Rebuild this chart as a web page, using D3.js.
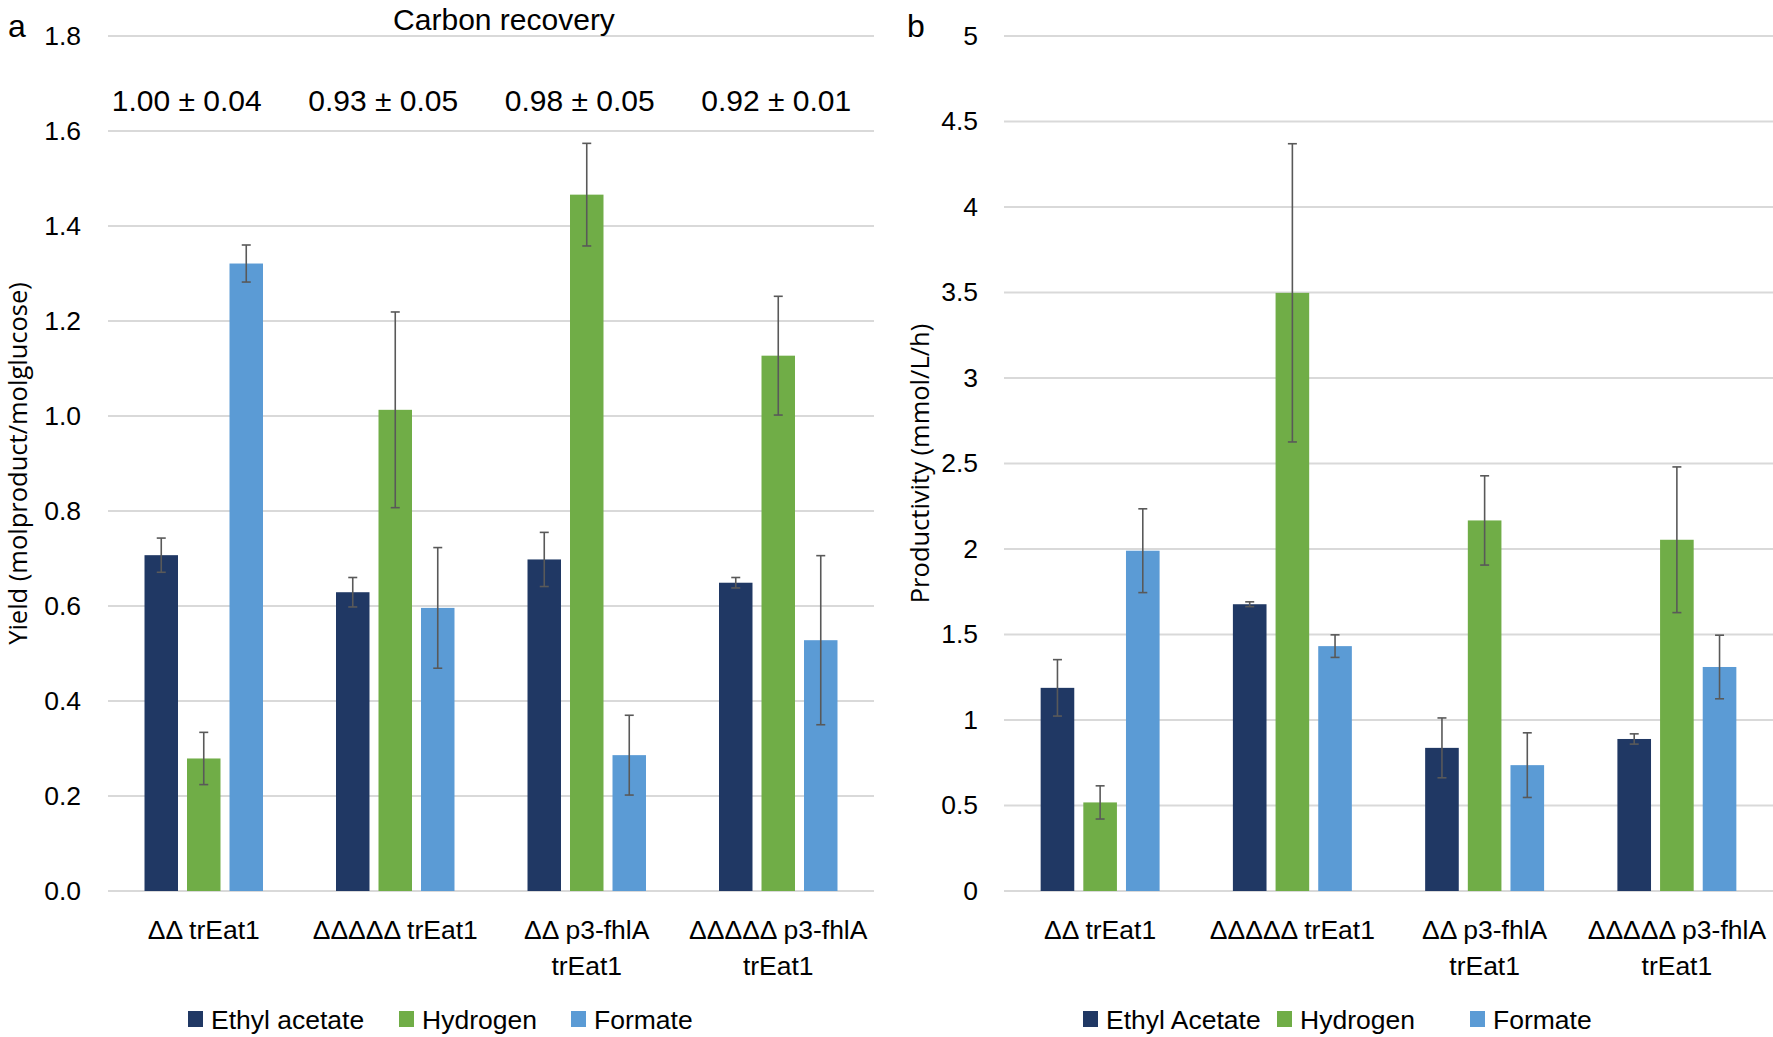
<!DOCTYPE html>
<html><head><meta charset="utf-8">
<script src="https://cdn.jsdelivr.net/npm/d3@7"></script>
<style>
html,body{margin:0;padding:0;background:#fff;}
svg text{fill:#000;}
.calib{font-family:"Liberation Sans","Arial",sans-serif;}
.axt{font-family:"Open Sans","DejaVu Sans",sans-serif;}
</style></head>
<body>
<svg id="chart" width="1773" height="1037"></svg>
<script>
// ---------- data ----------
const categories = ["ΔΔ trEat1", "ΔΔΔΔΔ trEat1", "ΔΔ p3-fhlA\ntrEat1", "ΔΔΔΔΔ p3-fhlA\ntrEat1"];
const seriesA = ["Ethyl acetate", "Hydrogen", "Formate"];
const seriesB = ["Ethyl Acetate", "Hydrogen", "Formate"];

const yieldEthyl      = [0.707, 0.629, 0.698, 0.649];
const yieldEthylErr   = [0.036, 0.031, 0.057, 0.011];
const yieldHydrogen   = [0.279, 1.013, 1.466, 1.127];
const yieldHydrogenErr= [0.055, 0.206, 0.108, 0.125];
const yieldFormate    = [1.321, 0.596, 0.286, 0.528];
const yieldFormateErr = [0.039, 0.127, 0.084, 0.178];

const prodEthyl       = [1.188, 1.677, 0.837, 0.889];
const prodEthylErr    = [0.165, 0.014, 0.175, 0.030];
const prodHydrogen    = [0.518, 3.498, 2.167, 2.054];
const prodHydrogenErr = [0.097, 0.872, 0.261, 0.426];
const prodFormate     = [1.990, 1.432, 0.736, 1.310];
const prodFormateErr  = [0.245, 0.066, 0.189, 0.186];

const recoveryMean = [1.00, 0.93, 0.98, 0.92];
const recoverySd   = [0.04, 0.05, 0.05, 0.01];

const yTicksA = [0, 0.2, 0.4, 0.6, 0.8, 1.0, 1.2, 1.4, 1.6, 1.8];
const yTicksB = [0, 0.5, 1, 1.5, 2, 2.5, 3, 3.5, 4, 4.5, 5];

const colors = ["#203864", "#70AD47", "#5B9BD5"];

// ---------- drawing ----------
const svg = d3.select("#chart");
const plotTop = 36, plotBottom = 891;
const FS = 26.5;

function panel(opts) {
  const g = svg.append("g");
  const x0 = d3.scaleBand().domain(categories).range([opts.x0, opts.x1]).paddingInner(0).paddingOuter(0);
  const x1 = d3.scaleBand().domain([0,1,2]).range([0, x0.bandwidth()]).paddingInner(0.212).paddingOuter(0.859);
  const y = d3.scaleLinear().domain([0, opts.ymax]).range([plotBottom, plotTop]);

  g.append("g").selectAll("line").data(opts.ticks).join("line")
    .attr("x1", opts.x0).attr("x2", opts.x1)
    .attr("y1", d => y(d)).attr("y2", d => y(d))
    .attr("stroke", "#d9d9d9").attr("stroke-width", 2);

  const yAxis = d3.axisLeft(y).tickValues(opts.ticks).tickFormat(opts.fmt).tickSize(0).tickPadding(0);
  const ya = g.append("g").attr("transform", `translate(${opts.tickX},0)`).call(yAxis);
  ya.select(".domain").remove();
  ya.attr("font-family", null).attr("font-size", null);
  ya.selectAll("text").attr("class", "calib").attr("font-size", FS).attr("fill", "#000");

  const data = [];
  opts.values.forEach((vals, s) => vals.forEach((v, i) => data.push({s, i, v, e: opts.errs[s][i]})));
  g.append("g").selectAll("rect").data(data).join("rect")
    .attr("x", d => x0(categories[d.i]) + x1(d.s))
    .attr("width", x1.bandwidth())
    .attr("y", d => y(d.v))
    .attr("height", d => y(0) - y(d.v))
    .attr("fill", d => colors[d.s]);

  const eg = g.append("g").attr("stroke", "#595959").attr("stroke-width", 1.6);
  data.forEach(d => {
    const cx = x0(categories[d.i]) + x1(d.s) + x1.bandwidth() / 2;
    eg.append("line").attr("x1", cx).attr("x2", cx).attr("y1", y(d.v + d.e)).attr("y2", y(d.v - d.e));
    [d.v + d.e, d.v - d.e].forEach(t => eg.append("line").attr("x1", cx - 4.5).attr("x2", cx + 4.5).attr("y1", y(t)).attr("y2", y(t)));
  });

  categories.forEach(c => {
    const lines = c.split("\n");
    const cx = x0(c) + x0.bandwidth() / 2;
    const t = g.append("text").attr("class", "calib").attr("font-size", FS).attr("text-anchor", "middle")
      .attr("x", cx).attr("y", 939);
    lines.forEach((l, k) => t.append("tspan").attr("x", cx).attr("dy", k === 0 ? 0 : 36).text(l));
  });

  g.append("text").attr("class", "axt").attr("font-size", 25.5).attr("text-anchor", "middle")
    .attr("transform", `translate(${opts.titleX},${(plotTop + plotBottom) / 2}) rotate(-90)`)
    .text(opts.title);

  g.append("text").attr("class", "calib").attr("font-size", 32).attr("x", opts.letterX).attr("y", 37).text(opts.letter);

  opts.series.forEach((s, k) => {
    g.append("rect").attr("x", opts.legX[k]).attr("y", 1011).attr("width", 15).attr("height", 16).attr("fill", colors[k]);
    g.append("text").attr("class", "calib").attr("font-size", FS).attr("x", opts.legX[k] + 23).attr("y", 1029).text(s);
  });
  return {g, x0, y};
}

const A = panel({
  x0: 108, x1: 874, ymax: 1.8, ticks: yTicksA, fmt: d3.format(".1f"), tickX: 81,
  values: [yieldEthyl, yieldHydrogen, yieldFormate],
  errs: [yieldEthylErr, yieldHydrogenErr, yieldFormateErr],
  title: "Yield (molproduct/molglucose)", titleX: 27, letter: "a", letterX: 8,
  series: seriesA, legX: [188, 399, 571]
});

const B = panel({
  x0: 1004, x1: 1773, ymax: 5, ticks: yTicksB, fmt: d3.format("~g"), tickX: 978,
  values: [prodEthyl, prodHydrogen, prodFormate],
  errs: [prodEthylErr, prodHydrogenErr, prodFormateErr],
  title: "Productivity (mmol/L/h)", titleX: 929, letter: "b", letterX: 907,
  series: seriesB, legX: [1083, 1277, 1470]
});

A.g.append("text").attr("class", "calib").attr("font-size", 30).attr("text-anchor", "middle")
  .attr("x", 504).attr("y", 30).text("Carbon recovery");
recoveryMean.forEach((m, i) => {
  A.g.append("text").attr("class", "calib").attr("font-size", 30).attr("text-anchor", "middle")
    .attr("x", A.x0(categories[i]) + A.x0.bandwidth() / 2 - 17 + i * 5)
    .attr("y", 111)
    .text(`${d3.format(".2f")(m)} ± ${d3.format(".2f")(recoverySd[i])}`);
});
</script>
</body></html>
